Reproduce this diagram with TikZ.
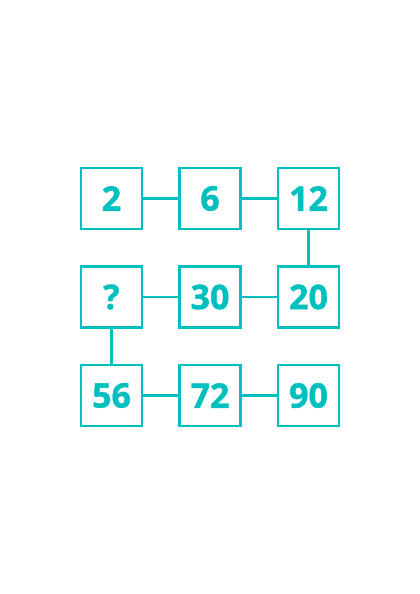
\documentclass[tikz,border=0pt]{standalone}
\usepackage{fontspec}
\setmainfont{Open Sans}[BoldFeatures={FakeBold=1.2}]
\usepackage{tikz}
\usepackage{xcolor}
\definecolor{teal}{RGB}{0,191,191}

\begin{document}
\begin{tikzpicture}[x=1pt,y=-1pt,
  numbox/.style={draw=teal,line width=2.2pt,minimum size=61pt,inner sep=0pt,
    text=teal,font=\fontsize{34}{34}\selectfont\bfseries},
  link/.style={draw=teal,line width=2.2pt}]
\useasboundingbox (0,0) rectangle (420,594);
\node[numbox] (a) at (111.5,198.5) {2};
\node[numbox] (b) at (210,198.5) {6};
\node[numbox] (c) at (308.5,198.5) {12};
\node[numbox] (q) at (111.5,297) {?};
\node[numbox] (d) at (210,297) {30};
\node[numbox] (e) at (308.5,297) {20};
\node[numbox] (f) at (111.5,395.5) {56};
\node[numbox] (g) at (210,395.5) {72};
\node[numbox] (h) at (308.5,395.5) {90};
\draw[link] (a) -- (b);
\draw[link] (b) -- (c);
\draw[link] (c) -- (e);
\draw[link] (e) -- (d);
\draw[link] (d) -- (q);
\draw[link] (q) -- (f);
\draw[link] (f) -- (g);
\draw[link] (g) -- (h);
\end{tikzpicture}
\end{document}
